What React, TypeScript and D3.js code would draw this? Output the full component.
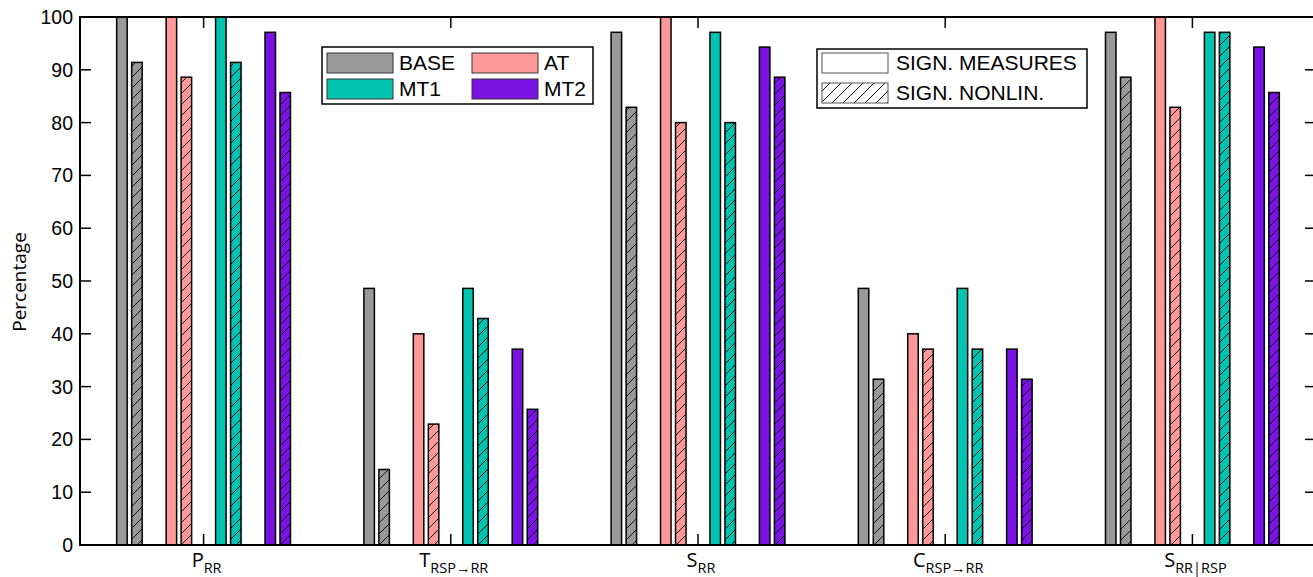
import { useEffect, useRef } from "react";
import * as d3 from "d3";

// Categories (main letter + subscript)
const labelMain = ["P", "T", "S", "C", "S"];
const labelSub = ["RR", "RSP\u2192RR", "RR", "RSP\u2192RR", "RR|RSP"];

const groups = ["BASE", "AT", "MT1", "MT2"];
const groupColors = ["#999999", "#ff9999", "#00c4b0", "#7a12e4"];

// Percentage of significant measures / significant nonlinearity per category
const baseMeasures = [100, 48.6, 97.1, 48.6, 97.1];
const baseNonlin = [91.4, 14.3, 82.9, 31.4, 88.6];
const atMeasures = [100, 40, 100, 40, 100];
const atNonlin = [88.6, 22.9, 80, 37.1, 82.9];
const mt1Measures = [100, 48.6, 97.1, 48.6, 97.1];
const mt1Nonlin = [91.4, 42.9, 80, 37.1, 97.1];
const mt2Measures = [97.1, 37.1, 94.3, 37.1, 94.3];
const mt2Nonlin = [85.7, 25.7, 88.6, 31.4, 85.7];

const yTicks = [0, 10, 20, 30, 40, 50, 60, 70, 80, 90, 100];

export default function App() {
    const svgRef = useRef<SVGSVGElement | null>(null);

    useEffect(() => {
        if (!svgRef.current) return;
        const svg = d3.select(svgRef.current);
        svg.selectAll("*").remove();

        const width = 1313;
        const height = 577;
        const left = 80;
        const right = 1316;
        const top = 17;
        const bottom = 545;
        const tickLen = 11;
        const sans = "'Liberation Sans', Arial, sans-serif";
        const labelFont = "'Open Sans', sans-serif";

        svg.attr("width", width).attr("height", height);

        const measures = [baseMeasures, atMeasures, mt1Measures, mt2Measures];
        const nonlin = [baseNonlin, atNonlin, mt1Nonlin, mt2Nonlin];

        const x = d3.scaleLinear().domain([0.5, labelMain.length + 0.5]).range([left, right]);
        const y = d3.scaleLinear().domain([0, 100]).range([bottom, top]);
        const catWidth = x(2) - x(1);
        const g = d3.scaleBand().domain(groups).range([-0.4 * catWidth, 0.4 * catWidth]);

        // hatch patterns
        const defs = svg.append("defs");
        const hatch = (id: string, bg: string) => {
            const p = defs
                .append("pattern")
                .attr("id", id)
                .attr("patternUnits", "userSpaceOnUse")
                .attr("width", 11)
                .attr("height", 11);
            p.append("rect").attr("width", 11).attr("height", 11).attr("fill", bg);
            p.append("path")
                .attr("d", "M-1,1 L1,-1 M0,11 L11,0 M10,12 L12,10")
                .attr("stroke", "#111")
                .attr("stroke-width", 1);
        };
        groups.forEach((grp, i) => hatch(`hatch-${grp}`, groupColors[i]));
        hatch("hatch-legend", "#ffffff");

        // bars
        const barW = 10.5;
        const gap = 3;
        labelMain.forEach((_, ci) => {
            const cx = x(ci + 1);
            groups.forEach((grp, gi) => {
                const gc = cx + (g(grp) || 0) + g.bandwidth() / 2;
                const vm = measures[gi][ci];
                const vn = nonlin[gi][ci];
                svg.append("rect")
                    .attr("x", gc - gap / 2 - barW - 0.75)
                    .attr("y", y(vm))
                    .attr("width", barW)
                    .attr("height", y(0) - y(vm))
                    .attr("fill", groupColors[gi])
                    .attr("stroke", "#000")
                    .attr("stroke-width", 1.5);
                svg.append("rect")
                    .attr("x", gc + gap / 2 + 0.75)
                    .attr("y", y(vn))
                    .attr("width", barW)
                    .attr("height", y(0) - y(vn))
                    .attr("fill", `url(#hatch-${grp})`)
                    .attr("stroke", "#000")
                    .attr("stroke-width", 1.5);
            });
        });

        // frame
        svg.append("rect")
            .attr("x", left)
            .attr("y", top)
            .attr("width", right - left)
            .attr("height", bottom - top)
            .attr("fill", "none")
            .attr("stroke", "#000")
            .attr("stroke-width", 2);

        // y ticks (both sides, inward)
        const yAxis = svg.append("g");
        yTicks.forEach((t) => {
            yAxis.append("line")
                .attr("x1", left).attr("x2", left + tickLen)
                .attr("y1", y(t)).attr("y2", y(t))
                .attr("stroke", "#000").attr("stroke-width", 1.5);
            yAxis.append("line")
                .attr("x1", right - tickLen).attr("x2", right)
                .attr("y1", y(t)).attr("y2", y(t))
                .attr("stroke", "#000").attr("stroke-width", 1.5);
            yAxis.append("text")
                .attr("x", left - 7)
                .attr("y", y(t))
                .attr("dy", "0.36em")
                .attr("text-anchor", "end")
                .attr("font-family", sans)
                .attr("font-size", 19.5)
                .attr("fill", "#000")
                .text(t);
        });

        // x ticks (top and bottom, inward) and labels
        labelMain.forEach((m, ci) => {
            const cx = x(ci + 1);
            svg.append("line")
                .attr("x1", cx).attr("x2", cx)
                .attr("y1", bottom).attr("y2", bottom - tickLen)
                .attr("stroke", "#000").attr("stroke-width", 1.5);
            svg.append("line")
                .attr("x1", cx).attr("x2", cx)
                .attr("y1", top).attr("y2", top + tickLen)
                .attr("stroke", "#000").attr("stroke-width", 1.5);
            const txt = svg.append("text")
                .attr("x", cx + 3)
                .attr("y", 567)
                .attr("text-anchor", "middle")
                .attr("font-family", labelFont)
                .attr("font-size", 20)
                .attr("fill", "#000");
            txt.append("tspan").text(m);
            txt.append("tspan")
                .attr("dy", 6)
                .attr("font-size", 14.5)
                .text(labelSub[ci]);
        });

        // y axis title
        svg.append("text")
            .attr("transform", `translate(26,282) rotate(-90)`)
            .attr("text-anchor", "middle")
            .attr("font-family", labelFont)
            .attr("font-size", 19)
            .attr("fill", "#000")
            .text("Percentage");

        // legend: groups
        const leg1 = svg.append("g");
        leg1.append("rect")
            .attr("x", 322).attr("y", 47).attr("width", 271).attr("height", 57)
            .attr("fill", "#fff").attr("stroke", "#000").attr("stroke-width", 1.5);
        groups.forEach((grp, i) => {
            const lx = 327 + (i % 2) * 145;
            const ly = 53 + Math.floor(i / 2) * 26;
            leg1.append("rect")
                .attr("x", lx).attr("y", ly).attr("width", 66).attr("height", 20)
                .attr("fill", groupColors[i]).attr("stroke", "#333").attr("stroke-width", 1);
            leg1.append("text")
                .attr("x", lx + 72).attr("y", ly + 17)
                .attr("font-family", sans).attr("font-size", 21).attr("fill", "#000")
                .text(grp);
        });

        // legend: bar types
        const leg2 = svg.append("g");
        leg2.append("rect")
            .attr("x", 817).attr("y", 49).attr("width", 270).attr("height", 59)
            .attr("fill", "#fff").attr("stroke", "#000").attr("stroke-width", 1.5);
        ["SIGN. MEASURES", "SIGN. NONLIN."].forEach((name, i) => {
            const ly = 53 + i * 30;
            leg2.append("rect")
                .attr("x", 822).attr("y", ly).attr("width", 66).attr("height", 20)
                .attr("fill", i === 0 ? "#fff" : "url(#hatch-legend)")
                .attr("stroke", "#555").attr("stroke-width", 1);
            leg2.append("text")
                .attr("x", 896).attr("y", ly + 17)
                .attr("font-family", sans).attr("font-size", 21).attr("fill", "#000")
                .text(name);
        });
    }, []);

    return (
        <svg
            ref={svgRef}
            style={{ position: "absolute", left: 0, top: 0, display: "block", background: "#fff" }}
        />
    );
}
